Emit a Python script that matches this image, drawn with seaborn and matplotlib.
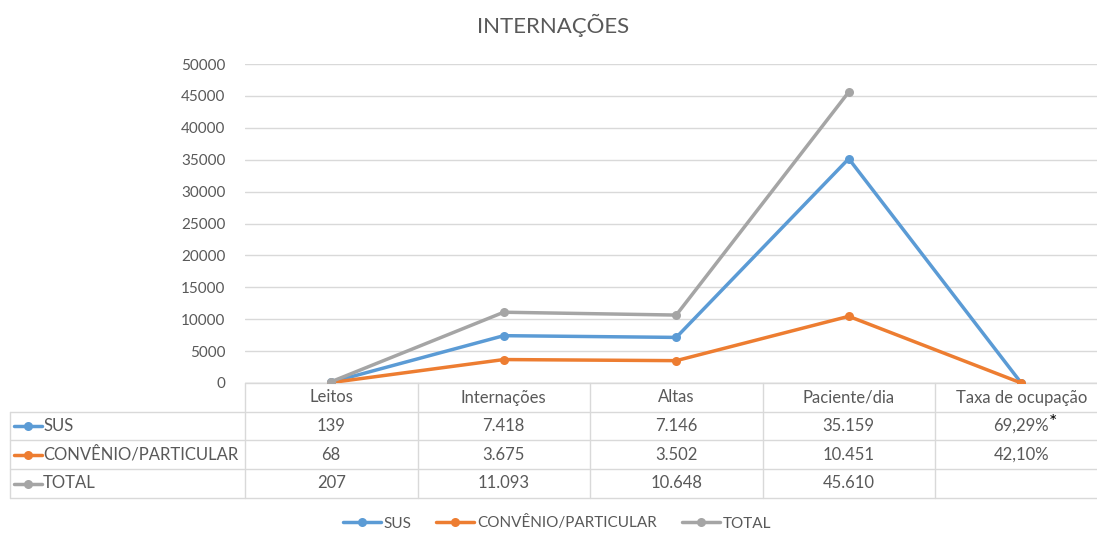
import numpy as np
import pandas as pd
import matplotlib
matplotlib.use("Agg")
import matplotlib.pyplot as plt
from matplotlib.lines import Line2D
import seaborn as sns

# ---- data ----
categories = ["Leitos", "Internações", "Altas", "Paciente/dia", "Taxa de ocupação"]
series_names = ["SUS", "CONVÊNIO/PARTICULAR", "TOTAL"]
sus = [139, 7418, 7146, 35159, 0.6929]
convenio = [68, 3675, 3502, 10451, 0.4210]
total = [207, 11093, 10648, 45610, np.nan]
yticks = [0, 5000, 10000, 15000, 20000, 25000, 30000, 35000, 40000, 45000, 50000]
title = "INTERNAÇÕES"

colors = ["#5B9BD5", "#ED7D31", "#A5A5A5"]
txt_col = "#595959"
grid_col = "#D9D9D9"

sns.set_theme(style="white")
plt.rcParams["font.family"] = ["Lato", "DejaVu Sans"]

def fmt(v, is_rate):
    if v is None or (isinstance(v, float) and np.isnan(v)):
        return ""
    if is_rate:
        return f"{v*100:.2f}%".replace(".", ",")
    return f"{int(round(v)):,}".replace(",", ".")

rows = []
for name, vals in zip(series_names, [sus, convenio, total]):
    for c, v in zip(categories, vals):
        rows.append({"categoria": c, "valor": v, "serie": name})
df = pd.DataFrame(rows)

W, H = 1097, 533
fig = plt.figure(figsize=(W / 100, H / 100), dpi=100)
ax_left, ax_right = 245, 245 + 5 * 172.5
ax_top, ax_bot = 64, 383
ax = fig.add_axes([ax_left / W, 1 - ax_bot / H, (ax_right - ax_left) / W, (ax_bot - ax_top) / H])

sns.lineplot(data=df, x="categoria", y="valor", hue="serie", hue_order=series_names,
             palette=colors, marker="o", markersize=6.5, markeredgewidth=0,
             linewidth=2.5, estimator=None, sort=False, ax=ax, legend=False, zorder=3)

ax.set_xlim(-0.5, 4.5)
ax.set_ylim(0, 50000)
ax.set_yticks(yticks)
ax.set_yticklabels([str(t) for t in yticks], color=txt_col, fontsize=11)
ax.tick_params(axis="y", length=0, pad=14)
ax.set_xticks([])
ax.set_xlabel("")
ax.set_ylabel("")
for s in ax.spines.values():
    s.set_visible(False)
ax.yaxis.grid(True, color=grid_col, linewidth=1)
ax.set_axisbelow(True)
ax.axhline(0, color=grid_col, linewidth=1, zorder=1)

fig.text(553 / W, 1 - 25 / H, title, ha="center", va="center", fontsize=16, color=txt_col)

# ---- data table ----
tr = ax.get_xaxis_transform()
ph = ax_bot - ax_top
row_edges = [0, -29 / ph, -57 / ph, -86 / ph, -115 / ph]
left_x = (10 - ax_left) / 172.5 - 0.5
right_x = 4.6
tfs = 12

for i, y in enumerate(row_edges):
    x0 = -0.5 if i == 0 else left_x
    ax.plot([x0, right_x], [y, y], color=grid_col, lw=1, transform=tr, clip_on=False, zorder=1)
ax.plot([left_x, left_x], [row_edges[1], row_edges[-1]], color=grid_col, lw=1, transform=tr, clip_on=False)
for xv in [-0.5, 0.5, 1.5, 2.5, 3.5]:
    ax.plot([xv, xv], [row_edges[0], row_edges[-1]], color=grid_col, lw=1, transform=tr, clip_on=False)

for i, c in enumerate(categories):
    ax.text(i, (row_edges[0] + row_edges[1]) / 2, c, transform=tr, ha="center", va="center",
            fontsize=tfs, color=txt_col)

icon_x0 = (14 - ax_left) / 172.5 - 0.5
icon_x1 = (42 - ax_left) / 172.5 - 0.5
label_x = (43 - ax_left) / 172.5 - 0.5
for r, (name, vals, col) in enumerate(zip(series_names, [sus, convenio, total], colors)):
    yc = (row_edges[r + 1] + row_edges[r + 2]) / 2
    ax.plot([icon_x0, icon_x1], [yc, yc], color=col, lw=2.5, transform=tr, clip_on=False)
    ax.plot([(icon_x0 + icon_x1) / 2], [yc], "o", color=col, ms=6.5, mew=0, transform=tr, clip_on=False)
    ax.text(label_x, yc, name, transform=tr, ha="left", va="center", fontsize=tfs, color=txt_col)
    for i, v in enumerate(vals):
        s = fmt(v, i == len(categories) - 1)
        t = ax.text(i, yc, s, transform=tr, ha="center", va="center", fontsize=tfs, color=txt_col)
        if r == 0 and i == len(categories) - 1:
            ax.annotate("*", xy=(1, 1), xycoords=t, xytext=(0, 3), textcoords="offset points",
                        ha="left", va="top", fontsize=14, color="black")

# ---- legend ----
handles = [Line2D([], [], color=c, lw=2.5, marker="o", ms=6.5, mew=0) for c in colors]
fig.legend(handles, series_names, loc="center", bbox_to_anchor=(557 / W, 1 - 523 / H),
           ncol=3, frameon=False, fontsize=11, labelcolor=txt_col, handlelength=2.5,
           handletextpad=0.2, columnspacing=1.6)

fig.savefig("out.png", dpi=100, facecolor="white")
